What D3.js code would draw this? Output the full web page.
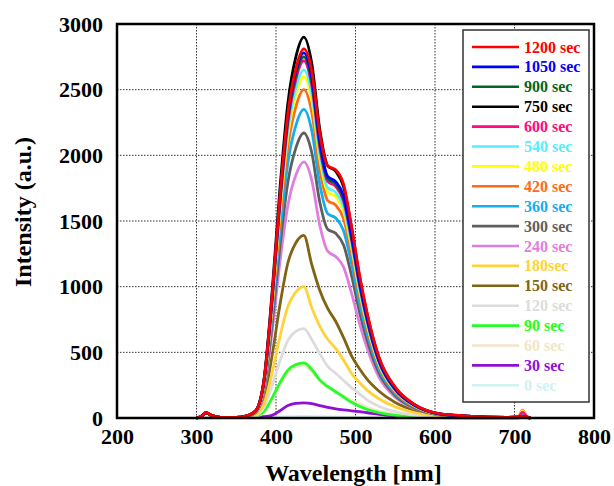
<!DOCTYPE html>
<html>
<head>
<meta charset="utf-8">
<script src="https://cdn.jsdelivr.net/npm/d3@7"></script>
<style>
  html, body { margin: 0; padding: 0; background: #ffffff; }
  svg { display: block; }
</style>
</head>
<body>
<script>
'use strict';

// wavelength samples (nm), shared by all spectra
const wavelengths = [300, 306, 312, 318, 330, 350, 365, 375, 385, 395, 405, 415, 425, 435, 445, 455,
  465, 475, 485, 495, 505, 515, 530, 550, 575, 600, 640, 690, 705, 710, 715, 720];

// legend labels, top to bottom
const labels = ['1200 sec', '1050 sec', '900 sec', '750 sec', '600 sec', '540 sec', '480 sec', '420 sec',
  '360 sec', '300 sec', '240 sec', '180sec', '150 sec', '120 sec', '90 sec', '60 sec', '30 sec', '0 sec'];

const colors = ['#ff0000', '#0000ff', '#006622', '#000000', '#ff0a80', '#55eeff', '#ffff00', '#ff6a14',
  '#12aef0', '#5e5e5e', '#e07ee0', '#ffd23a', '#806414', '#dcdcdc', '#22ff22', '#f0e6c8', '#9010d0', '#cff2f2'];

// intensities (a.u.), one array per irradiation time
const s1200 = [0, 12, 42, 22, 5, 4, 20, 58, 290, 920, 1690, 2320, 2660, 2810, 2640, 2170, 1920, 1890, 1780, 1460, 1090, 790, 455, 235, 100, 40, 15, 5, 6, 12, 6, 0];
const s1050 = [0, 12, 40, 21, 5, 4, 19, 58, 288, 910, 1678, 2300, 2636, 2780, 2590, 2110, 1840, 1800, 1690, 1390, 1035, 748, 430, 220, 95, 38, 14, 5, 6, 12, 5, 0];
const s900 = [0, 11, 40, 22, 5, 4, 19, 57, 285, 900, 1660, 2275, 2607, 2750, 2560, 2087, 1820, 1782, 1670, 1375, 1024, 740, 427, 218, 95, 38, 14, 5, 6, 12, 5, 0];
const s750 = [0, 13, 41, 23, 5, 4, 20, 60, 300, 950, 1750, 2400, 2750, 2900, 2700, 2200, 1920, 1880, 1760, 1450, 1080, 780, 450, 230, 100, 40, 15, 5, 6, 14, 6, 0];
const s600 = [0, 12, 40, 22, 5, 4, 19, 56, 281, 891, 1641, 2251, 2579, 2720, 2532, 2064, 1801, 1763, 1651, 1360, 1013, 732, 422, 216, 94, 38, 14, 5, 9, 45, 14, 0];
const s540 = [0, 12, 39, 21, 5, 4, 18, 55, 274, 868, 1599, 2193, 2513, 2650, 2467, 2011, 1754, 1718, 1608, 1325, 987, 713, 411, 210, 91, 37, 14, 5, 8, 30, 10, 0];
const s480 = [0, 11, 40, 22, 5, 4, 18, 54, 269, 852, 1569, 2152, 2465, 2600, 2421, 1973, 1721, 1685, 1578, 1300, 968, 699, 403, 206, 90, 36, 13, 5, 10, 55, 15, 0];
const s420 = [0, 12, 40, 21, 5, 4, 17, 52, 259, 819, 1509, 2069, 2370, 2500, 2328, 1897, 1655, 1621, 1517, 1250, 931, 672, 388, 198, 86, 35, 13, 5, 10, 60, 16, 0];
const s360 = [0, 11, 39, 21, 5, 4, 16, 49, 243, 770, 1418, 1944, 2228, 2350, 2188, 1783, 1556, 1523, 1426, 1175, 875, 632, 365, 186, 81, 33, 12, 4, 6, 20, 8, 0];
const s300 = [0, 11, 40, 22, 5, 4, 15, 45, 224, 711, 1309, 1796, 2057, 2170, 2020, 1646, 1437, 1406, 1317, 1085, 808, 584, 337, 172, 75, 30, 11, 4, 6, 15, 6, 0];
const s240 = [0, 12, 41, 22, 5, 4, 14, 42, 205, 650, 1190, 1620, 1850, 1950, 1810, 1470, 1270, 1230, 1150, 950, 720, 525, 305, 158, 70, 28, 10, 4, 8, 40, 12, 0];
const s180 = [0, 11, 40, 21, 5, 4, 8, 25, 110, 340, 620, 850, 960, 1000, 840, 700, 600, 530, 440, 340, 270, 210, 145, 85, 40, 16, 6, 2, 6, 30, 10, 0];
const s150 = [0, 12, 40, 22, 5, 4, 11, 35, 153, 473, 862, 1182, 1334, 1390, 1168, 973, 834, 737, 612, 473, 375, 292, 202, 118, 56, 22, 8, 3, 5, 15, 6, 0];
const s120 = [0, 11, 39, 21, 5, 4, 5, 20, 82, 245, 435, 592, 660, 680, 598, 490, 394, 340, 286, 231, 184, 136, 88, 48, 20, 8, 3, 1, 4, 15, 6, 0];
const s90 = [0, 12, 42, 22, 5, 4, 3, 13, 50, 151, 269, 365, 407, 420, 370, 290, 240, 200, 160, 120, 90, 65, 40, 20, 9, 4, 2, 1, 3, 10, 4, 0];
const s60 = [0, 11, 40, 21, 5, 4, 3, 12, 48, 144, 256, 348, 388, 400, 352, 288, 232, 200, 168, 136, 108, 80, 52, 28, 12, 5, 2, 1, 3, 10, 4, 0];
const s30 = [0, 14, 42, 22, 5, 3, 5, 8, 10, 20, 55, 95, 112, 115, 110, 95, 80, 70, 62, 55, 48, 40, 28, 16, 8, 3, 1, 0, 2, 6, 3, 0];
const s0 = [0, 3, 8, 5, 2, 2, 2, 3, 4, 6, 8, 10, 11, 12, 11, 10, 9, 8, 7, 6, 5, 4, 3, 2, 2, 1, 1, 0, 0, 2, 0, 0];

const seriesValues = [s1200, s1050, s900, s750, s600, s540, s480, s420, s360, s300, s240, s180, s150, s120, s90, s60, s30, s0];

const xTicks = [200, 300, 400, 500, 600, 700, 800];
const yTicks = [0, 500, 1000, 1500, 2000, 2500, 3000];

const W = 614, H = 486;
const plot = { left: 117, right: 594, top: 24, bottom: 418 };
const FONT = '"Liberation Serif", "Times New Roman", serif';

const svg = d3.select('body').append('svg')
  .attr('width', W).attr('height', H)
  .attr('viewBox', `0 0 ${W} ${H}`);
svg.append('rect').attr('width', W).attr('height', H).attr('fill', '#ffffff');

const x = d3.scaleLinear().domain([200, 800]).range([plot.left, plot.right]);
const y = d3.scaleLinear().domain([0, 3000]).range([plot.bottom, plot.top]);

// dotted grid
const grid = svg.append('g');
grid.selectAll('line.gx').data(xTicks.slice(1, -1)).join('line')
  .attr('x1', d => x(d)).attr('x2', d => x(d))
  .attr('y1', plot.top).attr('y2', plot.bottom)
  .attr('stroke', '#333').attr('stroke-width', 1).attr('stroke-dasharray', '1.5,1.5');
grid.selectAll('line.gy').data(yTicks.slice(1, -1)).join('line')
  .attr('x1', plot.left).attr('x2', plot.right)
  .attr('y1', d => y(d)).attr('y2', d => y(d))
  .attr('stroke', '#333').attr('stroke-width', 1).attr('stroke-dasharray', '1.5,1.5');

// spectra, 0 sec drawn first
const line = d3.line()
  .x((d, i) => x(wavelengths[i]))
  .y(d => y(d))
  .curve(d3.curveMonotoneX);

const curves = svg.append('g')
  .attr('fill', 'none').attr('stroke-width', 2.8).attr('stroke-linejoin', 'round');
seriesValues.map((v, i) => ({ v, c: colors[i] })).reverse().forEach(s => {
  curves.append('path').attr('d', line(s.v)).attr('stroke', s.c);
});

// axes: labels only, the frame is drawn separately
const xAxis = svg.append('g')
  .attr('transform', `translate(0,${plot.bottom})`)
  .call(d3.axisBottom(x).tickValues(xTicks).tickSize(0).tickPadding(10).tickFormat(d3.format('d')));
const yAxis = svg.append('g')
  .attr('transform', `translate(${plot.left},0)`)
  .call(d3.axisLeft(y).tickValues(yTicks).tickSize(0).tickPadding(14).tickFormat(d3.format('d')));
[xAxis, yAxis].forEach(a => {
  a.select('.domain').remove();
  a.selectAll('text')
    .attr('font-family', FONT).attr('font-weight', 'bold')
    .attr('font-size', 22).attr('fill', '#000');
});

svg.append('rect')
  .attr('x', plot.left).attr('y', plot.top)
  .attr('width', plot.right - plot.left).attr('height', plot.bottom - plot.top)
  .attr('fill', 'none').attr('stroke', '#000').attr('stroke-width', 2.5);

// axis titles
svg.append('text')
  .attr('x', (plot.left + plot.right) / 2 - 2).attr('y', 481)
  .attr('text-anchor', 'middle')
  .attr('font-family', FONT).attr('font-weight', 'bold').attr('font-size', 24)
  .text('Wavelength [nm]');
svg.append('text')
  .attr('transform', 'translate(31,212) rotate(-90)')
  .attr('text-anchor', 'middle')
  .attr('font-family', FONT).attr('font-weight', 'bold').attr('font-size', 24)
  .text('Intensity (a.u.)');

// legend
const lg = svg.append('g');
lg.append('rect')
  .attr('x', 463).attr('y', 30).attr('width', 126).attr('height', 372)
  .attr('fill', '#ffffff').attr('stroke', '#333').attr('stroke-width', 1.5);
const rows = lg.selectAll('g.row').data(labels).join('g')
  .attr('transform', (d, i) => `translate(0,${47 + i * 19.9})`);
rows.append('line')
  .attr('x1', 472).attr('x2', 519).attr('y1', 0).attr('y2', 0)
  .attr('stroke', (d, i) => colors[i]).attr('stroke-width', 2.6);
rows.append('text')
  .attr('x', 524).attr('y', 5.5)
  .attr('font-family', FONT).attr('font-weight', 'bold').attr('font-size', 16)
  .attr('fill', (d, i) => colors[i])
  .text(d => d);
</script>
</body>
</html>
